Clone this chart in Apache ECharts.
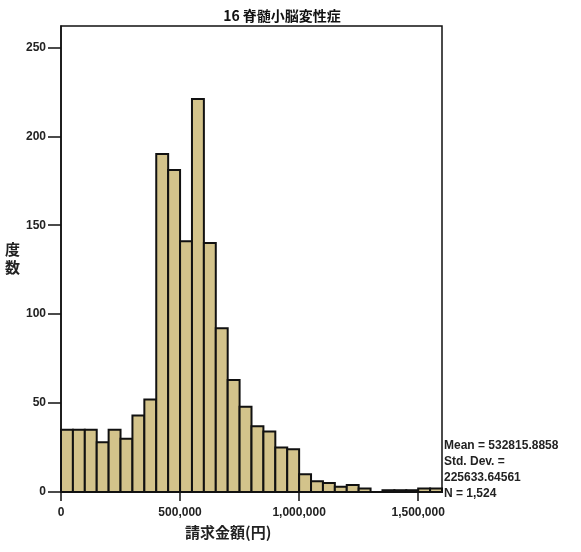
<!DOCTYPE html>
<html lang="ja">
<head>
    <meta charset="UTF-8">
    <title>16 脊髄小脳変性症</title>
    <script src="https://cdn.jsdelivr.net/npm/echarts@6/dist/echarts.min.js"></script>
    <style>
        *{
            margin: 0;
            padding: 0;
        }
        html,body{
            width: 100%;
            height: 100%;
            background: #fff;
        }
        .main{
            width: 581px;
            height: 552px;
        }
    </style>
</head>
<body>
<div class="main"></div>
<script>
    // histogram of claim amounts, bins of 50,000 yen starting at 0
    const title = '16 脊髄小脳変性症';
    const binWidth = 50000;
    const counts = [35, 35, 35, 28, 35, 30, 43, 52, 190, 181,
                    141, 221, 140, 92, 63, 48, 37, 34, 25, 24,
                    10, 6, 5, 3, 4, 2, 0, 1, 1, 1,
                    2, 2];
    const xTicks = [0, 500000, 1000000, 1500000];
    const yTicks = [0, 50, 100, 150, 200, 250];
    const stats = ['Mean = 532815.8858', 'Std. Dev. =', '225633.64561', 'N = 1,524'];

    const latin = '"Liberation Sans", Arial, sans-serif';
    const cjk = '"Noto Sans CJK JP", sans-serif';

    let data = counts.map((c, i) => [i * binWidth, (i + 1) * binWidth, c]);

    let main = echarts.init(document.getElementsByClassName('main')[0]);
    let option = {
        backgroundColor: '#fff',
        animation: false,
        grid: {
            left: 61,
            right: 139,
            top: 26,
            bottom: 60,
            show: true,
            borderColor: '#111',
            borderWidth: 1.5
        },
        title: {
            text: title,
            left: 277,
            top: 4,
            textAlign: 'center',
            textStyle: {fontFamily: cjk, fontSize: 14, fontWeight: 'bold', color: '#111'}
        },
        xAxis: {
            type: 'value',
            min: 0,
            max: 1600000,
            interval: 500000,
            axisLine: {onZero: false, lineStyle: {color: '#111', width: 1.5}},
            axisTick: {show: true, length: 9, customValues: xTicks, lineStyle: {color: '#111', width: 1.5}},
            axisLabel: {
                customValues: xTicks,
                margin: 15,
                color: '#222',
                fontFamily: latin,
                fontWeight: 'bold',
                fontSize: 12,
                formatter: v => v.toString().replace(/\B(?=(\d{3})+(?!\d))/g, ',')
            },
            splitLine: {show: false}
        },
        yAxis: {
            type: 'value',
            min: 0,
            max: 262,
            interval: 50,
            axisLine: {show: true, lineStyle: {color: '#111', width: 1.5}},
            axisTick: {show: true, length: 13, customValues: yTicks, lineStyle: {color: '#111', width: 1.5}},
            axisLabel: {
                customValues: yTicks,
                margin: 15,
                color: '#222',
                fontFamily: latin,
                fontWeight: 'bold',
                fontSize: 12
            },
            splitLine: {show: false}
        },
        graphic: [{
            type: 'text',
            left: 5,
            top: 240,
            style: {text: '度\n数', font: 'bold 15px ' + cjk, fill: '#222', lineHeight: 18}
        }, {
            type: 'text',
            left: 185,
            top: 525,
            style: {text: '請求金額(円)', font: 'bold 15px ' + cjk, fill: '#222'}
        }, {
            type: 'text',
            left: 444,
            top: 438,
            style: {text: stats.join('\n'), font: 'bold 12px ' + latin, fill: '#222', lineHeight: 16}
        }],
        series: [{
            type: 'custom',
            data,
            renderItem: function (params, api) {
                let p0 = api.coord([api.value(0), 0]);
                let p1 = api.coord([api.value(1), api.value(2)]);
                return {
                    type: 'rect',
                    shape: {x: p0[0], y: p1[1], width: p1[0] - p0[0], height: p0[1] - p1[1]},
                    style: {fill: '#d3c38b', stroke: '#111', lineWidth: 2}
                };
            },
            encode: {x: [0, 1], y: 2}
        }]
    };
    main.setOption(option);
</script>
</body>
</html>
